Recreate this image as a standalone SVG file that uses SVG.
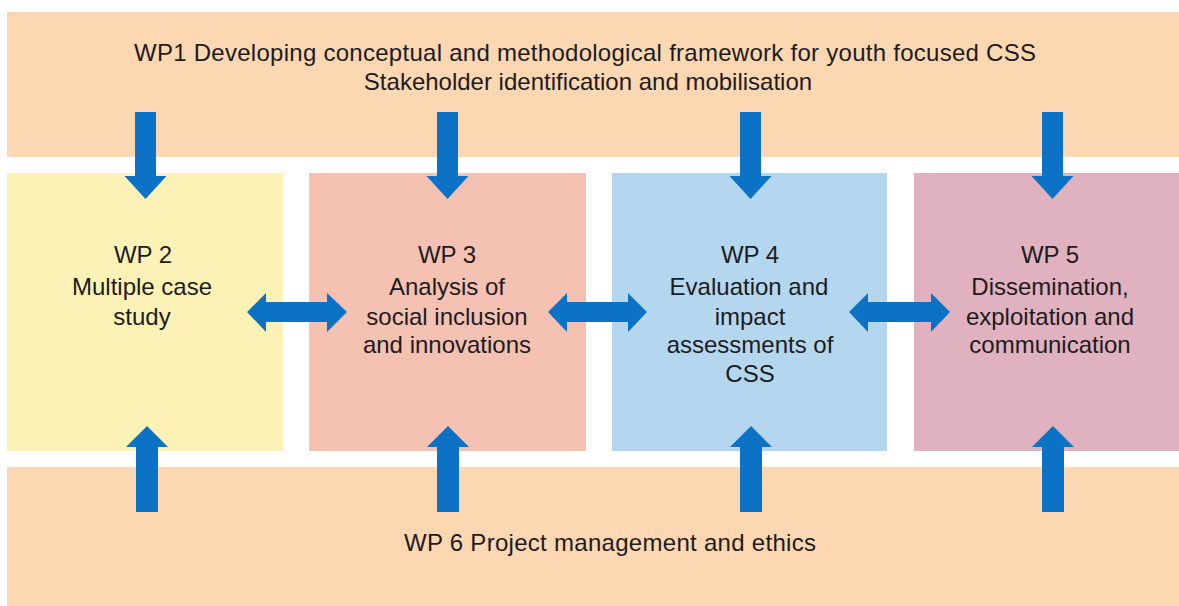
<svg xmlns="http://www.w3.org/2000/svg" width="1179" height="606" viewBox="0 0 1179 606">
<style>
.t{font-family:"Liberation Sans",Arial,sans-serif;font-size:24px;fill:#1c1c1c;text-anchor:middle}
.arr{fill:#0B72C6}
</style>
<rect width="1179" height="606" fill="#ffffff"/>
<g id="wp1">
<rect x="7" y="12" width="1172" height="145" fill="#FDD6B2"/>
<text class="t" x="585" y="61" textLength="902" lengthAdjust="spacing">WP1 Developing conceptual and methodological framework for youth focused CSS</text>
<text class="t" x="588" y="90">Stakeholder identification and mobilisation</text>
</g>
<g id="wp6">
<rect x="7" y="467" width="1172" height="139" fill="#FDD6B2"/>
<text class="t" x="610" y="551" textLength="412" lengthAdjust="spacing">WP 6 Project management and ethics</text>
</g>
<g id="wp2">
<rect x="7" y="173" width="276" height="278" fill="#FCF2B5"/>
<text class="t" x="143" y="263">WP 2</text>
<text class="t" x="142" y="295">Multiple case</text>
<text class="t" x="142" y="325">study</text>
</g>
<g id="wp3">
<rect x="309" y="173" width="277" height="278" fill="#F4C1B2"/>
<text class="t" x="447" y="263">WP 3</text>
<text class="t" x="447" y="295">Analysis of</text>
<text class="t" x="447" y="325">social inclusion</text>
<text class="t" x="447" y="353">and innovations</text>
</g>
<g id="wp4">
<rect x="612" y="173" width="275" height="278" fill="#B5D6EF"/>
<text class="t" x="750" y="263">WP 4</text>
<text class="t" x="749" y="295">Evaluation and</text>
<text class="t" x="750" y="325">impact</text>
<text class="t" x="750" y="353">assessments of</text>
<text class="t" x="750" y="382">CSS</text>
</g>
<g id="wp5">
<rect x="914" y="173" width="265" height="278" fill="#E0B1BF"/>
<text class="t" x="1050" y="263">WP 5</text>
<text class="t" x="1050" y="295">Dissemination,</text>
<text class="t" x="1050" y="325">exploitation and</text>
<text class="t" x="1050" y="353">communication</text>
</g>
<g id="connectors" class="arr">
<path d="M135,112H156V176H166.5L145.5,199L124.5,176H135Z"/>
<path d="M437,112H458V176H468.5L447.5,199L426.5,176H437Z"/>
<path d="M740,112H761V176H771.5L750.5,199L729.5,176H740Z"/>
<path d="M1042,112H1063V176H1073.5L1052.5,199L1031.5,176H1042Z"/>
<path d="M136,512H158V447H168L147,426L126,447H136Z"/>
<path d="M437,512H459V447H469L448,426L427,447H437Z"/>
<path d="M740,512H762V447H772L751,426L730,447H740Z"/>
<path d="M1042,512H1064V447H1074L1053,426L1032,447H1042Z"/>
<path d="M247,312L266,293V302H327V293L347,312L327,332V322H266V332Z"/>
<path d="M548,312L567,293V302H628V293L647,312L628,332V322H567V332Z"/>
<path d="M849,312L868,293V302H931V293L950,312L931,332V322H868V332Z"/>
</g>
</svg>
